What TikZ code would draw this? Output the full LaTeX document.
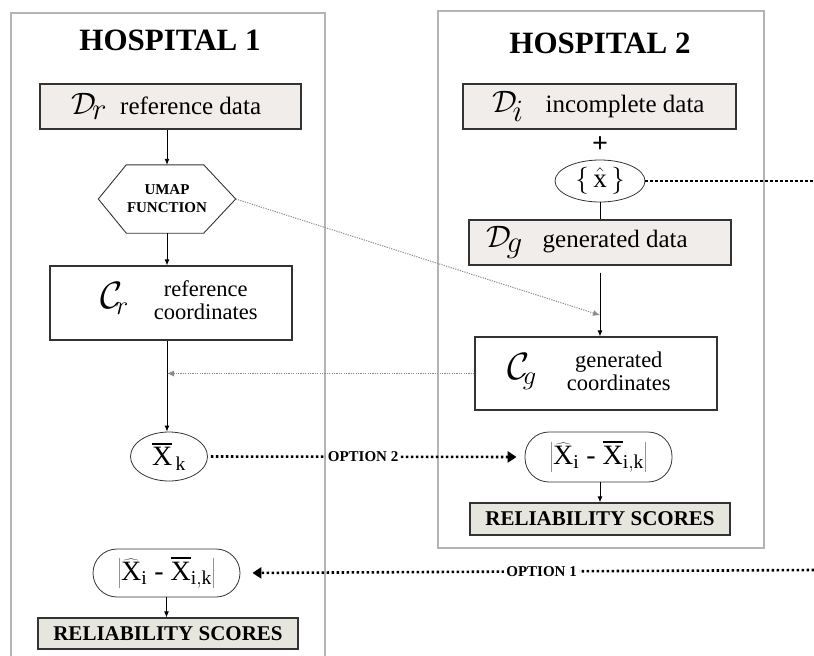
\RequirePackage{fix-cm}
\documentclass[tikz,border=0pt]{standalone}
\usepackage{fontspec}
\setmainfont{Liberation Serif}
\usetikzlibrary{shapes.geometric,arrows.meta,calc}

\definecolor{framegray}{HTML}{B4B4B4}
\definecolor{datafill}{HTML}{F0EDEB}
\definecolor{scorefill}{HTML}{E6E6DF}
\definecolor{edgegray}{HTML}{333333}
\definecolor{linkgray}{HTML}{8A8A8A}

% a letter with a bar drawn a little above it
\newcommand\mybar[1]{\hbox{\setbox0\hbox{#1}%
  \rlap{\raisebox{\dimexpr\ht0+0.11em\relax}{\rule{\wd0}{0.06em}}}\box0}}
% a calligraphic letter with a large italic index
\newcommand\calidx[2]{$\mathcal{#1}_{\!\textstyle #2}$}

\tikzset{
  frame/.style={draw=framegray, line width=2pt, anchor=north west, inner sep=0pt},
  title/.style={font=\fontsize{31}{33}\selectfont\bfseries},
  databox/.style={draw=edgegray, fill=datafill, line width=1.2pt, inner sep=0pt,
    minimum height=45pt, font=\fontsize{25}{27}\selectfont},
  coordbox/.style={draw=edgegray, fill=white, line width=1.2pt, inner sep=0pt,
    font=\fontsize{22.5}{25}\selectfont},
  meanoval/.style={ellipse, draw=edgegray, line width=0.8pt, inner sep=0pt},
  diffbox/.style={draw=edgegray, line width=0.8pt, rounded corners=24pt, inner sep=0pt,
    font=\fontsize{28}{30}\selectfont},
  scorebox/.style={draw=edgegray, fill=scorefill, line width=1.2pt, inner sep=0pt,
    minimum width=260pt, font=\fontsize{21}{23}\selectfont\bfseries},
  flow/.style={draw=black, line width=0.9pt, -{Latex[length=6pt,width=5pt]}},
  grayflow/.style={draw=linkgray, line width=1pt, dash pattern=on 1.2pt off 1.2pt,
    -{Latex[length=7pt,width=6pt]}},
  option/.style={draw=black, line width=2.6pt, dash pattern=on 2.4pt off 2.6pt},
  optlabel/.style={fill=white, inner sep=2pt, font=\fontsize{15}{15}\selectfont\bfseries},
}

\begin{document}
\begin{tikzpicture}[x=1pt, y=-1pt]
  \useasboundingbox (0,0) rectangle (814,656);
  \clip (0,0) rectangle (814,656);

  % hospital frames
  \node[frame, minimum width=314pt, minimum height=670pt] (h1) at (10,12) {};
  \node[frame, minimum width=326pt, minimum height=537pt] (h2) at (437,10) {};
  \node[title] (t1) at (170,40) {HOSPITAL 1};
  \node[title] (t2) at (600,43) {HOSPITAL 2};

  % hospital 1
  \node[databox, minimum width=261pt] (dr) at (170.5,106.5)
    {{\fontsize{31}{31}\selectfont\calidx{D}{r}}\hspace{13pt}reference data\hspace*{8pt}};
  \node[minimum width=137pt, minimum height=68pt, inner sep=0pt, align=center,
        font=\fontsize{15}{18}\selectfont\bfseries] (umap) at (167,199) {UMAP\\FUNCTION};
  \draw[draw=edgegray, line width=0.9pt]
    (umap.west) -- ($(umap.north west)+(28,0)$) -- ($(umap.north east)+(-32,0)$)
    -- (umap.east) -- ($(umap.south east)+(-32,0)$) -- ($(umap.south west)+(28,0)$) -- cycle;
  \node[coordbox, minimum width=242pt, minimum height=74pt] (cr) at (171,303)
    {\hspace*{16pt}{\fontsize{38}{38}\selectfont$\mathcal{C}_{\!r}$}\hspace{25pt}\begin{tabular}{@{}c@{}}reference\\[-2pt]coordinates\end{tabular}};
  \node[meanoval, minimum width=77pt, minimum height=49pt, font=\fontsize{28}{28}\selectfont]
    (xk) at (169,456.5) {$\mybar{X}_{\,\mathrm{k}}$};
  \node[diffbox, minimum width=147pt, minimum height=48pt] (abs1) at (166.5,573)
    {$\left|\widehat{\mathrm{X}}_{\mathrm{i}}\ \mbox{-}\ \mybar{X}_{\mathrm{i,k}}\right|$};
  \node[scorebox, minimum height=31pt] (rel1) at (168,633.5) {RELIABILITY SCORES};

  % hospital 2
  \node[databox, minimum width=273pt] (di) at (599.5,106.5)
    {{\fontsize{31}{31}\selectfont\calidx{D}{i}}\hspace{22pt}incomplete data\hspace*{2pt}};
  \node[font=\fontsize{28}{28}\selectfont\bfseries, inner sep=0pt] (plus) at (600,145) {+};
  \node[meanoval, minimum width=90pt, minimum height=42pt, font=\fontsize{27}{27}\selectfont]
    (xhat) at (600,181) {$\{\,\hat{\mathrm{x}}\,\}$};
  \node[databox, minimum width=262pt] (dg) at (600,242.5)
    {{\fontsize{31}{31}\selectfont\calidx{D}{g}}\hspace{20pt}generated data\hspace*{26pt}};
  \node[coordbox, minimum width=242pt, minimum height=73pt] (cg) at (596,373.5)
    {{\fontsize{38}{38}\selectfont$\mathcal{C}_{\!g}$}\hspace{30pt}\begin{tabular}{@{}c@{}}generated\\[-2pt]coordinates\end{tabular}\hspace*{14pt}};
  \node[diffbox, minimum width=147pt, minimum height=50pt] (abs2) at (598.5,457)
    {$\left|\widehat{\mathrm{X}}_{\mathrm{i}}\ \mbox{-}\ \mybar{X}_{\mathrm{i,k}}\right|$};
  \node[scorebox, minimum height=32pt] (rel2) at (600,519) {RELIABILITY SCORES};

  % free ends of the links leaving the page
  \coordinate (xhatout) at (814,181);
  \coordinate (opt1out) at (814,570);

  % flow inside each hospital (vertical connectors)
  \draw[flow] (umap.north |- dr.south) -- (umap.north);
  \draw[flow] (umap.south) -- (umap.south |- cr.north);
  \draw[flow] (umap.south |- cr.south) -- (umap.south |- xk.north);
  \draw[flow] (abs1.south) -- (abs1.south |- rel1.north);
  \draw[line width=0.9pt] (xhat.south) -- (dg.north);
  \draw[flow, shorten <=7pt] (dg.south) -- (dg.south |- cg.north);
  \draw[flow] (rel2.north |- abs2.south) -- (rel2.north);

  % shared UMAP links
  \draw[grayflow] (umap.east) -- ($(dg.south)!0.7!(dg.south |- cg.north)$);
  \draw[grayflow] (cg.west) -- (umap.south |- cg.west);

  % comparison options
  \draw[option] (xhat.east) -- (xhatout);
  \draw[option, shorten <=3pt, shorten >=8pt, -{Triangle[length=9pt,width=11pt]}]
    (xk.east) -- node[optlabel, pos=0.49] (opt2) {OPTION 2} (abs2.west);
  \draw[option, shorten >=12pt, -{Triangle[length=9pt,width=11pt]}]
    (opt1out) -- node[optlabel, pos=0.475] (opt1) {OPTION 1} (abs1.east);
\end{tikzpicture}
\end{document}
